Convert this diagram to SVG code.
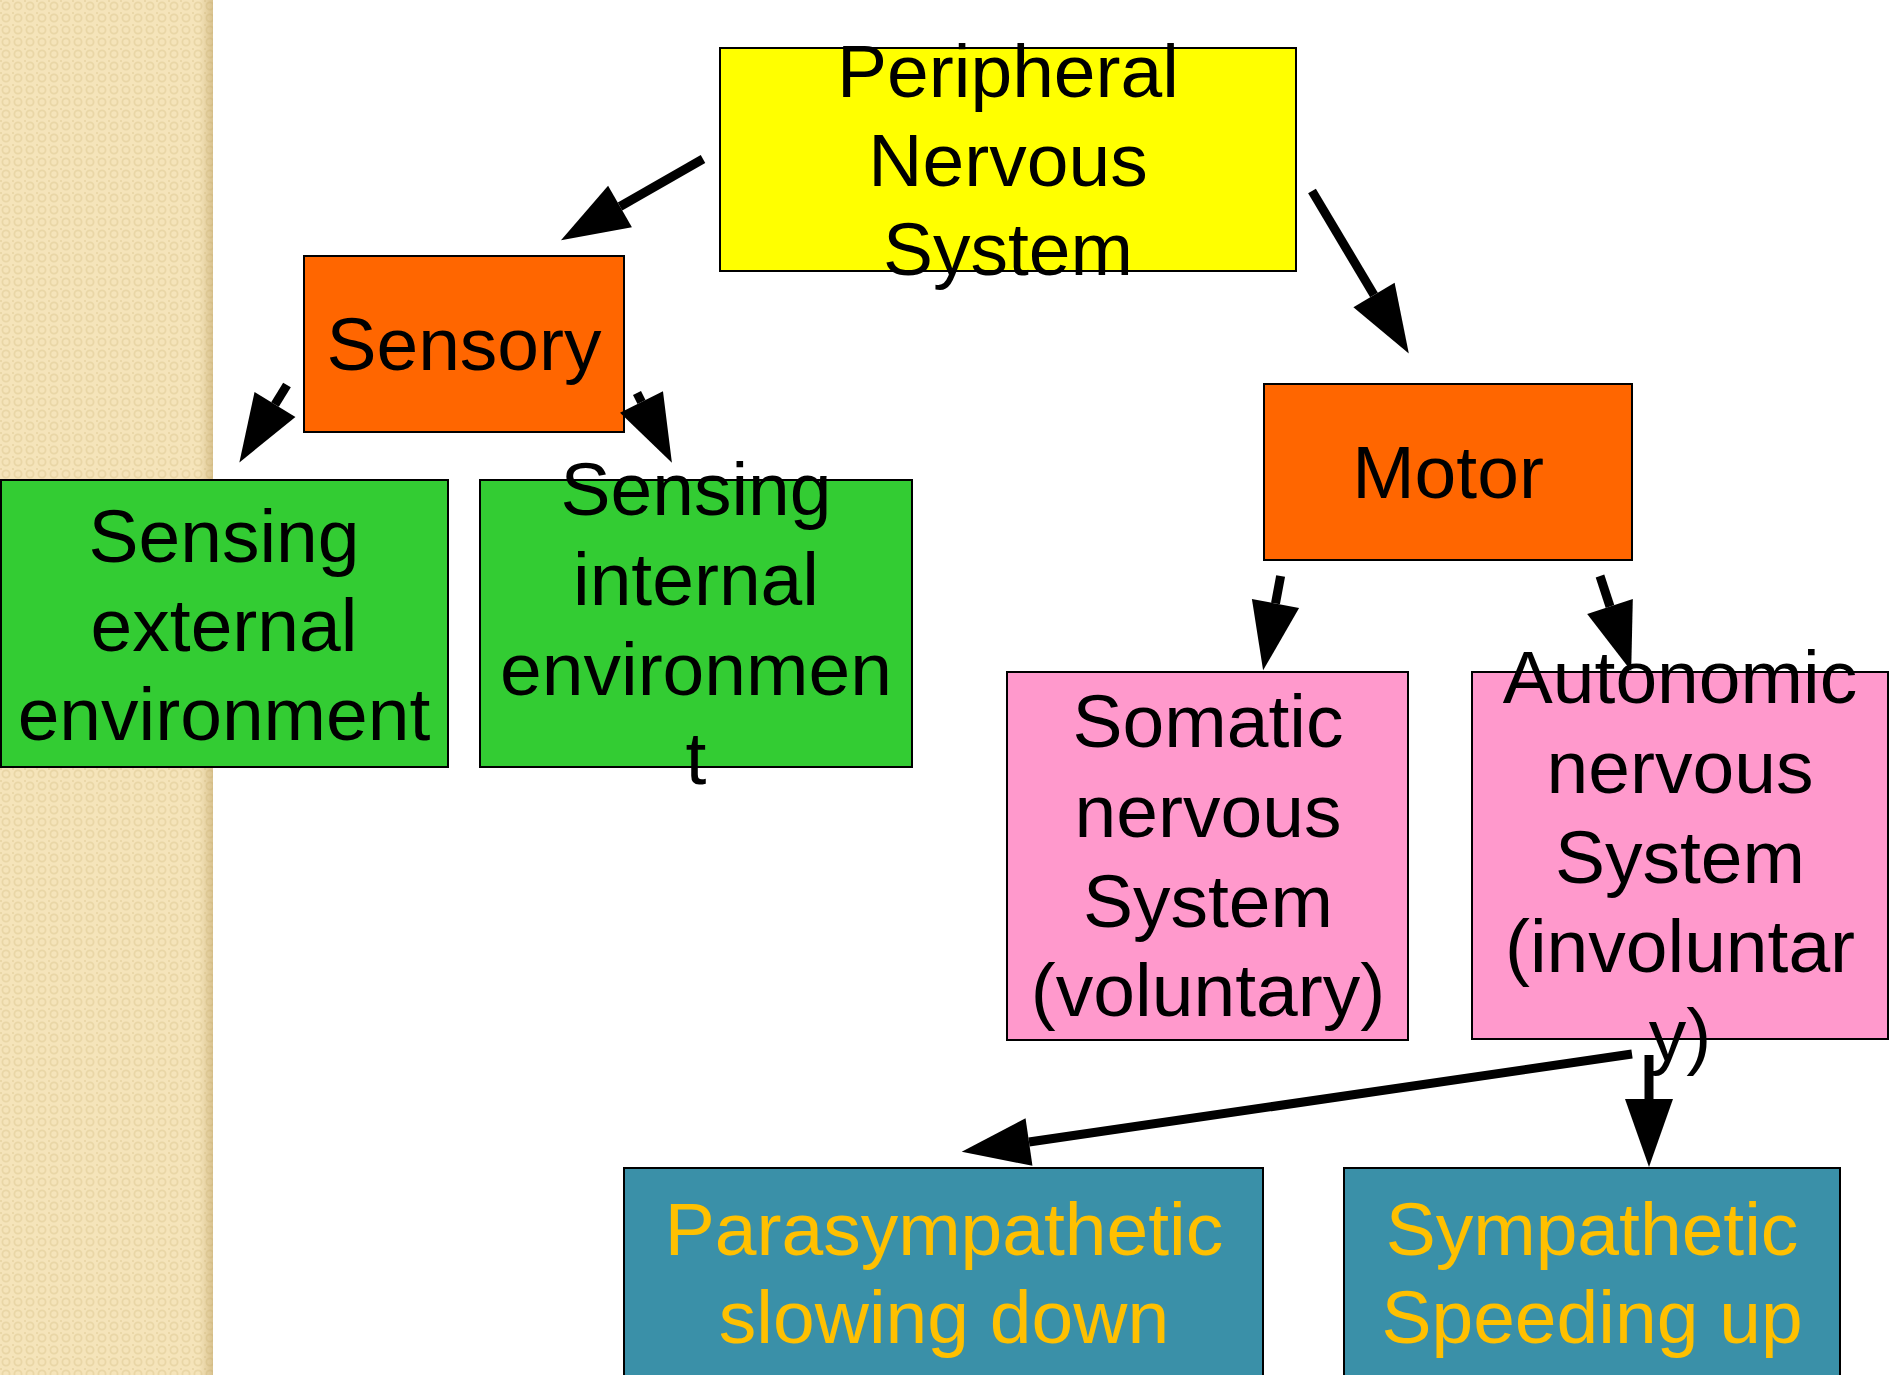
<svg xmlns="http://www.w3.org/2000/svg" width="1892" height="1375" viewBox="0 0 1892 1375">
<style>
.box{stroke:#000;stroke-width:2}
.t{font-family:"Liberation Sans",Arial,sans-serif;font-size:75px;text-anchor:middle;fill:#000}
.g{fill:#FFC000}
.c{stroke:#000;stroke-width:9;fill:none;marker-end:url(#ah)}
</style>
<defs>
<pattern id="tex" width="12" height="12" patternUnits="userSpaceOnUse">
<rect width="12" height="12" fill="#F5E4BA"/>
<circle cx="6" cy="6" r="3.6" fill="none" stroke="#E9D6A6" stroke-width="1.8"/>
<rect x="0" y="0" width="2" height="2" fill="#EAD7A8"/>
</pattern>
<linearGradient id="edge" x1="0" y1="0" x2="1" y2="0">
<stop offset="0" stop-color="#B89A5A" stop-opacity="0"/>
<stop offset="1" stop-color="#B89A5A" stop-opacity="0.45"/>
</linearGradient>
<marker id="ah" markerUnits="userSpaceOnUse" markerWidth="70" markerHeight="52" viewBox="0 -26 70 52" refX="0" refY="0" orient="auto" overflow="visible">
<path d="M0,-24 L68,0 L0,24 z" fill="#000"/>
</marker>
</defs>
<rect width="1892" height="1375" fill="#fff"/>
<rect x="0" y="0" width="213" height="1375" fill="url(#tex)"/>
<rect x="199" y="0" width="14" height="1375" fill="url(#edge)"/>

<g id="pns">
<rect class="box" x="720" y="48" width="576" height="223" fill="#FFFF00"/>
<text class="t" x="1008" y="97">Peripheral</text>
<text class="t" x="1008" y="186">Nervous</text>
<text class="t" x="1008" y="275">System</text>
</g>
<g id="sensory">
<rect class="box" x="304" y="256" width="320" height="176" fill="#FF6600"/>
<text class="t" x="464" y="370">Sensory</text>
</g>
<g id="external">
<rect class="box" x="1" y="480" width="447" height="287" fill="#33CC33"/>
<text class="t" x="224" y="562">Sensing</text>
<text class="t" x="224" y="651">external</text>
<text class="t" x="224" y="740">environment</text>
</g>
<g id="internal">
<rect class="box" x="480" y="480" width="432" height="287" fill="#33CC33"/>
<text class="t" x="696" y="515">Sensing</text>
<text class="t" x="696" y="605">internal</text>
<text class="t" x="696" y="695">environmen</text>
<text class="t" x="696" y="784">t</text>
</g>
<g id="motor">
<rect class="box" x="1264" y="384" width="368" height="176" fill="#FF6600"/>
<text class="t" x="1448" y="498">Motor</text>
</g>
<g id="somatic">
<rect class="box" x="1007" y="672" width="401" height="368" fill="#FF99CC"/>
<text class="t" x="1208" y="747">Somatic</text>
<text class="t" x="1208" y="837">nervous</text>
<text class="t" x="1208" y="927">System</text>
<text class="t" x="1208" y="1016">(voluntary)</text>
</g>
<g id="autonomic">
<rect class="box" x="1472" y="672" width="416" height="367" fill="#FF99CC"/>
<text class="t" x="1680" y="703">Autonomic</text>
<text class="t" x="1680" y="793">nervous</text>
<text class="t" x="1680" y="883">System</text>
<text class="t" x="1680" y="972">(involuntar</text>
<text class="t" x="1680" y="1061">y)</text>
</g>
<g id="parasympathetic">
<rect class="box" x="624" y="1168" width="639" height="230" fill="#3A90A8"/>
<text class="t g" x="944" y="1255">Parasympathetic</text>
<text class="t g" x="944" y="1343">slowing down</text>
</g>
<g id="sympathetic">
<rect class="box" x="1344" y="1168" width="496" height="230" fill="#3A90A8"/>
<text class="t g" x="1592" y="1255">Sympathetic</text>
<text class="t g" x="1592" y="1343">Speeding up</text>
</g>

<g id="connectors">
<line class="c" x1="703" y1="159" x2="620" y2="206.5"/>
<line class="c" x1="1312" y1="191" x2="1374" y2="295"/>
<line class="c" x1="287" y1="385" x2="275" y2="404.5"/>
<line class="c" x1="637" y1="393" x2="641.5" y2="402"/>
<line class="c" x1="1280.6" y1="576" x2="1275.5" y2="603.5"/>
<line class="c" x1="1600" y1="576" x2="1610" y2="606.5"/>
<line class="c" x1="1632" y1="1054" x2="1029" y2="1142"/>
<line class="c" x1="1649" y1="1055" x2="1649" y2="1099"/>
</g>
</svg>
